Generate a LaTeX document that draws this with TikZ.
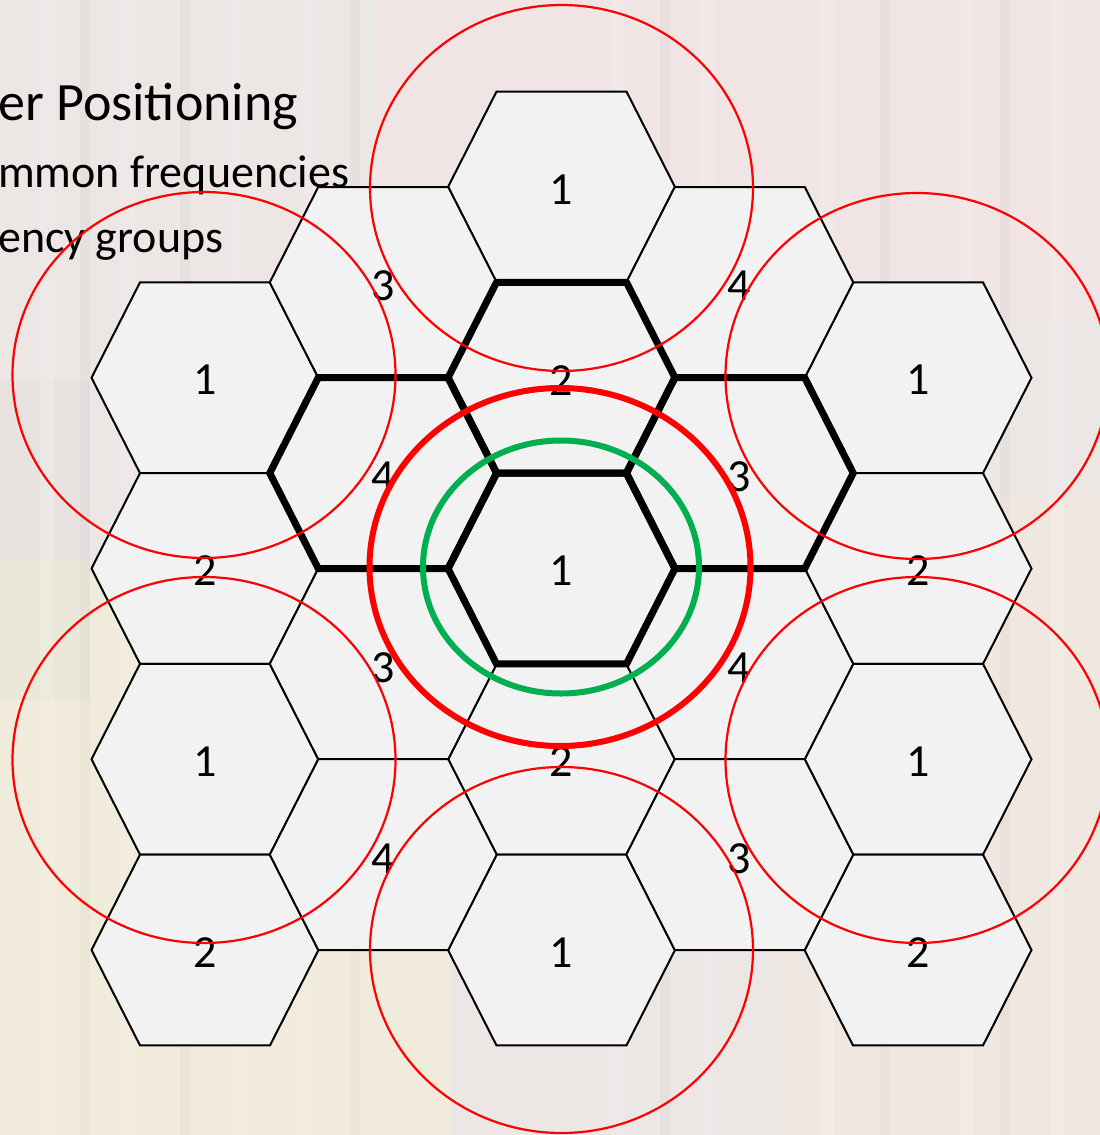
\documentclass[tikz,border=0pt]{standalone}
\usepackage{fontspec}
\setmainfont{Carlito}
\definecolor{hexgrey}{HTML}{F2F2F2}
\definecolor{bgbase}{HTML}{ECE6E4}
\definecolor{officegreen}{HTML}{00B050}
\definecolor{offred}{HTML}{FF0000}
\tikzset{
  hexcell/.style={fill=hexgrey, draw=black, line width=2pt},
  hexbold/.style={draw=black, line width=7pt, miter limit=10},
  cellnum/.style={font=\fontsize{46}{52}\selectfont, inner sep=0pt},
  reach/.style={draw=offred, line width=2.2pt},
  reachbold/.style={draw=offred, line width=6pt},
  inner/.style={draw=officegreen, line width=6pt},
  bullet/.style={font=\fontsize{46}{52}\selectfont, anchor=base west, inner sep=0pt},
}
\newcommand{\hexshape}{(-113.5,0) -- (-65,-95.4) -- (65,-95.4) -- (113.5,0) -- (65,95.4) -- (-65,95.4) -- cycle}
\begin{document}
\begin{tikzpicture}[x=1pt,y=-1pt]
\useasboundingbox (0,0) rectangle (1100,1135);
% background (blurred photo approximation)
\fill[bgbase] (0,0) rectangle (1100,1135);
\fill[pink!40!white, opacity=0.25] (380,0) rectangle (1100,320);
\fill[yellow!25!white, opacity=0.25] (0,560) rectangle (450,1135);
\fill[orange!15!white, opacity=0.25] (780,500) rectangle (1100,1135);
\fill[gray!30, opacity=0.2] (0,380) rectangle (90,700);
\foreach \xx in {40,120,230,300,610,700,820,960,1050}{
  \fill[white, opacity=0.15] (\xx,0) rectangle (\xx+14,1135);
}
\foreach \xx in {80,180,350,660,880,1000}{
  \fill[gray, opacity=0.05] (\xx,0) rectangle (\xx+10,1135);
}
% text
\node[bullet, font=\fontsize{54}{60}\selectfont] (t1) at (-2,120) {er Positioning};
\node[bullet] (t2) at (-2,187) {mmon frequencies};
\node[bullet] (t3) at (-2,252) {ency groups};
% hex cells
\foreach \cx/\cy in {561.5/187, 561.5/377.75, 561.5/568.5, 561.5/759.25, 561.5/950,
  205/377.75, 205/568.5, 205/759.25, 205/950,
  918/377.75, 918/568.5, 918/759.25, 918/950,
  383.25/282.4, 383.25/473.1, 383.25/663.9, 383.25/854.6,
  739.75/282.4, 739.75/473.1, 739.75/663.9, 739.75/854.6}{
  \draw[hexcell, shift={(\cx,\cy)}] \hexshape;
}
% highlighted cluster
\foreach \cx/\cy in {561.5/568.5, 561.5/377.75, 383.25/473.1, 739.75/473.1}{
  \draw[hexbold, shift={(\cx,\cy)}] \hexshape;
}
% labels
\node[cellnum] (c01) at (561.5,190) {1};
\node[cellnum] (c02) at (561.5,381) {2};
\node[cellnum] (c03) at (561.5,571) {1};
\node[cellnum] (c04) at (561.5,762) {2};
\node[cellnum] (c05) at (561.5,953) {1};
\node[cellnum] (l01) at (205,380) {1};
\node[cellnum] (l02) at (205,571) {2};
\node[cellnum] (l03) at (205,762) {1};
\node[cellnum] (l04) at (205,953) {2};
\node[cellnum] (r01) at (918,380) {1};
\node[cellnum] (r02) at (918,571) {2};
\node[cellnum] (r03) at (918,762) {1};
\node[cellnum] (r04) at (918,953) {2};
\node[cellnum] (m01) at (383,286) {3};
\node[cellnum] (m02) at (383,477) {4};
\node[cellnum] (m03) at (383,668) {3};
\node[cellnum] (m04) at (383,859) {4};
\node[cellnum] (n01) at (739,286) {4};
\node[cellnum] (n02) at (739,477) {3};
\node[cellnum] (n03) at (739,668) {4};
\node[cellnum] (n04) at (739,859) {3};
% coverage circles
\foreach \cx/\cy in {561.5/188, 204/375, 917/376, 204/760, 917/760, 561.5/950}{
  \draw[reach] (\cx,\cy) ellipse [x radius=191.5, y radius=183];
}
\draw[reachbold] (560,567) ellipse [x radius=190.5, y radius=179];
\draw[inner] (561,567) ellipse [x radius=138, y radius=126.5];
\end{tikzpicture}
\end{document}
